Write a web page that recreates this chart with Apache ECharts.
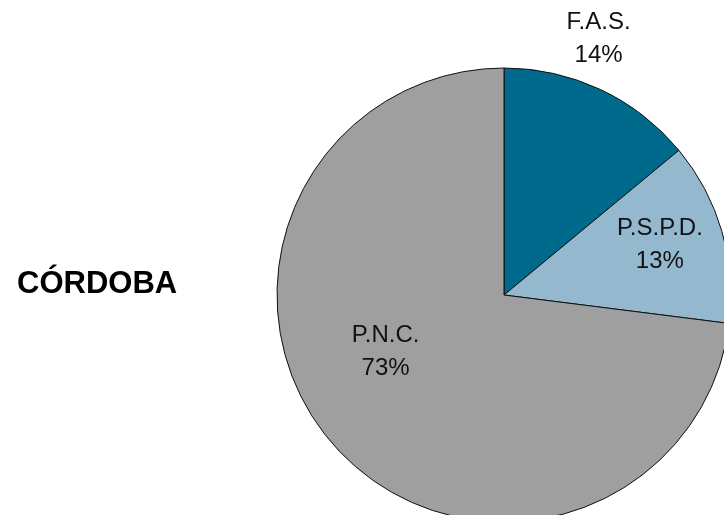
<!DOCTYPE html>
<html>
<head>
<meta charset="utf-8">
<script src="https://cdn.jsdelivr.net/npm/echarts@6/dist/echarts.min.js"></script>
<style>
html,body{margin:0;padding:0;background:#fff;}
#chart{width:724px;height:515px;}
</style>
</head>
<body>
<div id="chart"></div>
<script>
const titleText = 'CÓRDOBA';
const categories = ['F.A.S.', 'P.S.P.D.', 'P.N.C.'];
const values = [14, 13, 73];
const colors = ['#006a8d', '#94b9cf', '#9f9f9f'];
const labelShift = [[45, -151], [44, -18], [-31, -20]];

const chart = echarts.init(document.getElementById('chart'), null, {renderer: 'canvas'});
const FONT = '"Liberation Sans", Arial, Helvetica, sans-serif';
chart.setOption({
  backgroundColor: '#ffffff',
  animation: false,
  title: {
    text: titleText,
    left: 12,
    top: 264,
    textStyle: {fontFamily: FONT, fontSize: 31, fontWeight: 'bold', color: '#000'}
  },
  series: [{
    type: 'pie',
    center: [504, 295],
    radius: 227,
    startAngle: 90,
    clockwise: true,
    silent: true,
    data: categories.map((c, i) => ({name: c, value: values[i], itemStyle: {color: colors[i]}})),
    itemStyle: {borderColor: '#111', borderWidth: 1},
    label: {
      show: true,
      position: 'inside',
      formatter: '{b}\n{d}%',
      fontFamily: FONT,
      fontSize: 24,
      lineHeight: 33,
      color: '#111',
      align: 'center'
    },
    labelLine: {show: false},
    labelLayout: function (p) {
      const s = labelShift[p.dataIndex];
      return {dx: s[0], dy: s[1]};
    }
  }]
});
</script>
</body>
</html>
